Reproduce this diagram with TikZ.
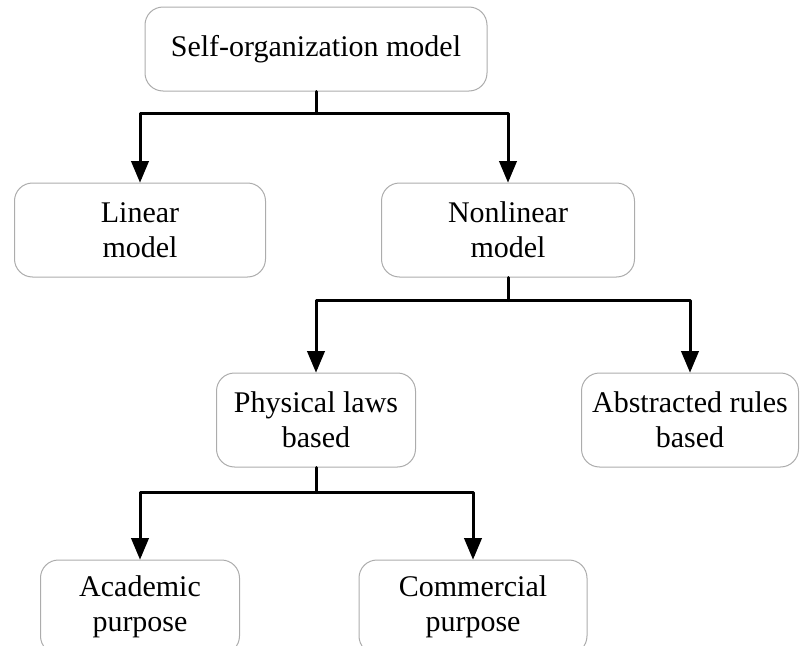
\documentclass[tikz,border=0pt]{standalone}
\usepackage{fontspec}
\setmainfont{Liberation Serif}
\usepackage{tikz}
\usetikzlibrary{arrows}

\tikzset{
  box/.style={draw=gray!65, line width=0.5pt, rounded corners=9pt, align=center,
    inner sep=0pt, font=\fontsize{15}{17.5}\selectfont},
  conn/.style={line width=1.5pt},
}

\begin{document}
\begin{tikzpicture}[line cap=round,line join=round,>=triangle 45,x=0.5pt,y=0.5pt]
\clip (0,0) rectangle (800,645);
% levels of the tree
\node[box, minimum width=171pt, minimum height=42pt] (selforg) at (316,596) {Self-organization model};
\node[box, minimum width=125.5pt, minimum height=47pt] (linear) at (140,415) {Linear\\model};
\node[box, minimum width=126.5pt, minimum height=47pt] (nonlinear) at (508,415) {Nonlinear\\model};
\node[box, minimum width=99.5pt, minimum height=47pt] (physical) at (316,225) {Physical laws\\based};
\node[box, minimum width=108.5pt, minimum height=47pt] (abstracted) at (690,225) {Abstracted rules\\based};
\node[box, minimum width=99.5pt, minimum height=47pt] (academic) at (140,38) {Academic\\purpose};
\node[box, minimum width=114pt, minimum height=47pt] (commercial) at (473,38) {Commercial\\purpose};

% connectors
\draw [conn] (selforg.south) -- ++(0,-22) coordinate (j1);
\draw [conn,->] (j1) -| (linear.north);
\draw [conn,->] (j1) -| (nonlinear.north);
\draw [conn] (nonlinear.south) -- ++(0,-23) coordinate (j2);
\draw [conn,->] (j2) -| (physical.north);
\draw [conn,->] (j2) -| (abstracted.north);
\draw [conn] (physical.south) -- ++(0,-25) coordinate (j3);
\draw [conn,->] (j3) -| (academic.north);
\draw [conn,->] (j3) -| (commercial.north);
\end{tikzpicture}
\end{document}
